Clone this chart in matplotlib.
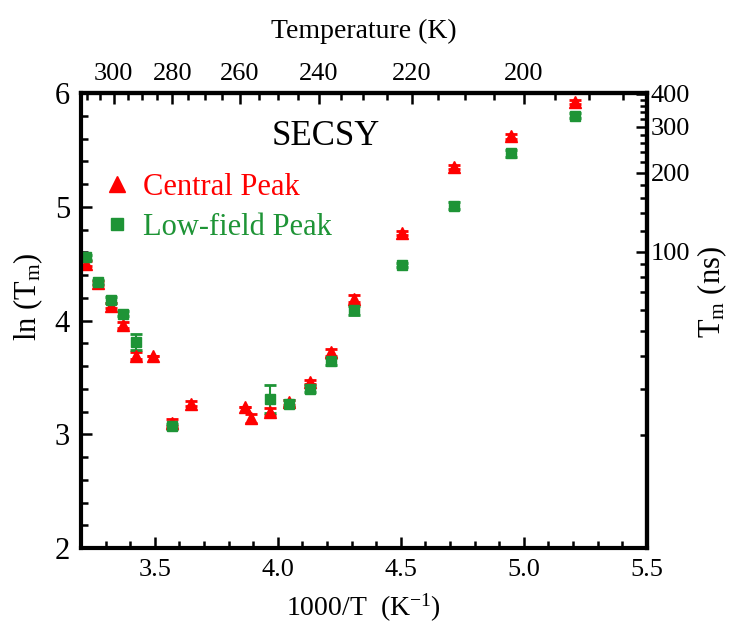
import numpy as np
import matplotlib
matplotlib.use('Agg')
import matplotlib.pyplot as plt
from matplotlib.ticker import MultipleLocator, FixedLocator
from matplotlib.lines import Line2D

# Central peak (red triangles)
central_x = [3.222, 3.270, 3.320, 3.371, 3.423, 3.493, 3.568, 3.646, 3.866, 3.890,
             3.967, 4.046, 4.130, 4.218, 4.309, 4.503, 4.717, 4.950, 5.207]
central_y = [4.50, 4.33, 4.13, 3.96, 3.69, 3.69, 3.10, 3.27, 3.24, 3.14,
             3.20, 3.28, 3.46, 3.72, 4.19, 4.77, 5.35, 5.62, 5.92]
central_err = [0.02, 0.015, 0.02, 0.03, 0.03, 0.0, 0.03, 0.02, 0.0, 0.04,
               0.03, 0.02, 0.02, 0.03, 0.03, 0.02, 0.02, 0.02, 0.02]

# Low-field peak (green squares)
low_x = [3.222, 3.270, 3.320, 3.371, 3.423, 3.568, 3.967, 4.046, 4.130, 4.218,
         4.309, 4.503, 4.717, 4.950, 5.207]
low_y = [4.556, 4.34, 4.18, 4.06, 3.81, 3.07, 3.31, 3.27, 3.40, 3.64,
         4.09, 4.49, 5.01, 5.47, 5.80]
low_err = [0.02, 0.02, 0.03, 0.02, 0.07, 0.02, 0.12, 0.03, 0.03, 0.03,
           0.04, 0.02, 0.03, 0.03, 0.02]

top_ticks = [300, 280, 260, 240, 220, 200]
top_minor = list(range(185, 315, 5))
right_ticks = [100, 200, 300, 400]
right_minor = [20, 30, 40, 50, 60, 70, 80, 90] + list(range(120, 400, 20))

RED = '#ff0000'
GREEN = '#1e9436'

plt.rcParams['font.family'] = ['Liberation Serif', 'DejaVu Serif']
plt.rcParams['mathtext.fontset'] = 'custom'
plt.rcParams['mathtext.rm'] = 'Liberation Serif'
plt.rcParams['mathtext.it'] = 'Liberation Serif'

fig = plt.figure(figsize=(7.4, 6.26), dpi=100)
ax = fig.add_axes([0.1095, 0.1246, 0.7645, 0.7268])

ax.errorbar(central_x, central_y, yerr=central_err, fmt='^', color=RED,
            ms=9, capsize=4.5, capthick=2, elinewidth=1.5)
ax.errorbar(low_x, low_y, yerr=low_err, fmt='s', color=GREEN,
            ms=7, capsize=4.5, capthick=2, elinewidth=1.5)

ax.set_xlim(3.2, 5.5)
ax.set_ylim(2, 6)
ax.xaxis.set_major_locator(MultipleLocator(0.5))
ax.xaxis.set_minor_locator(MultipleLocator(0.1))
ax.yaxis.set_major_locator(MultipleLocator(1))
ax.yaxis.set_minor_locator(MultipleLocator(0.2))
ax.xaxis.set_major_formatter(plt.FuncFormatter(lambda v, p: f'{v:.1f}'))
ax.yaxis.set_major_formatter(plt.FuncFormatter(lambda v, p: f'{v:.0f}'))

for s in ax.spines.values():
    s.set_linewidth(3)

ax.tick_params(which='both', direction='in', width=1.8, top=False, right=False)
ax.tick_params(axis='x', labelsize=19, pad=8)
ax.tick_params(axis='y', labelsize=22, pad=8)
ax.tick_params(which='major', length=8)
ax.tick_params(which='minor', length=5)

ax.set_xlabel('1000/T  (K$^{-1}$)', fontsize=20, labelpad=8)

# top axis: temperature
top = ax.secondary_xaxis('top', functions=(lambda x: 1000 / np.asarray(x, float),
                                            lambda t: 1000 / np.asarray(t, float)))
top.xaxis.set_major_locator(FixedLocator(top_ticks))
top.xaxis.set_minor_locator(FixedLocator(top_minor))
top.xaxis.set_major_formatter(plt.FuncFormatter(lambda v, p: f'{v:.0f}'))
top.tick_params(which='both', direction='in', width=1.8, labelsize=19, pad=6)
top.tick_params(which='major', length=8)
top.tick_params(which='minor', length=5)
top.set_xlabel('Temperature (K)', fontsize=20, labelpad=18)
top.spines['top'].set_linewidth(3)

# right axis: Tm in ns
right = ax.secondary_yaxis('right', functions=(np.exp, np.log))
right.yaxis.set_major_locator(FixedLocator(right_ticks))
right.yaxis.set_minor_locator(FixedLocator(right_minor))
right.yaxis.set_major_formatter(plt.FuncFormatter(lambda v, p: f'{v:.0f}'))
right.tick_params(which='both', direction='in', width=1.8, labelsize=19, pad=3)
right.tick_params(which='major', length=8)
right.tick_params(which='minor', length=5)
right.spines['right'].set_linewidth(3)

# axis titles on the sides
fig.text(0.038, 0.526, 'ln (T$_\\mathrm{m}$)', rotation=90, ha='center', va='center',
         fontsize=22)
fig.text(0.962, 0.534, 'T$_\\mathrm{m}$ (ns)', rotation=90, ha='center', va='center',
         fontsize=22)

ax.text(0.433, 0.905, 'SECSY', transform=ax.transAxes, ha='center', va='center',
        fontsize=25)

handles = [Line2D([], [], ls='none', marker='^', color=RED, ms=11),
           Line2D([], [], ls='none', marker='s', color=GREEN, ms=9)]
leg = ax.legend(handles, ['Central Peak', 'Low-field Peak'], loc='upper left',
                bbox_to_anchor=(-0.025, 0.885), frameon=False, fontsize=22,
                handletextpad=0.1, labelspacing=0.35, handlelength=1.5)
for t, c in zip(leg.get_texts(), [RED, GREEN]):
    t.set_color(c)

fig.savefig('out.png', dpi=100)
